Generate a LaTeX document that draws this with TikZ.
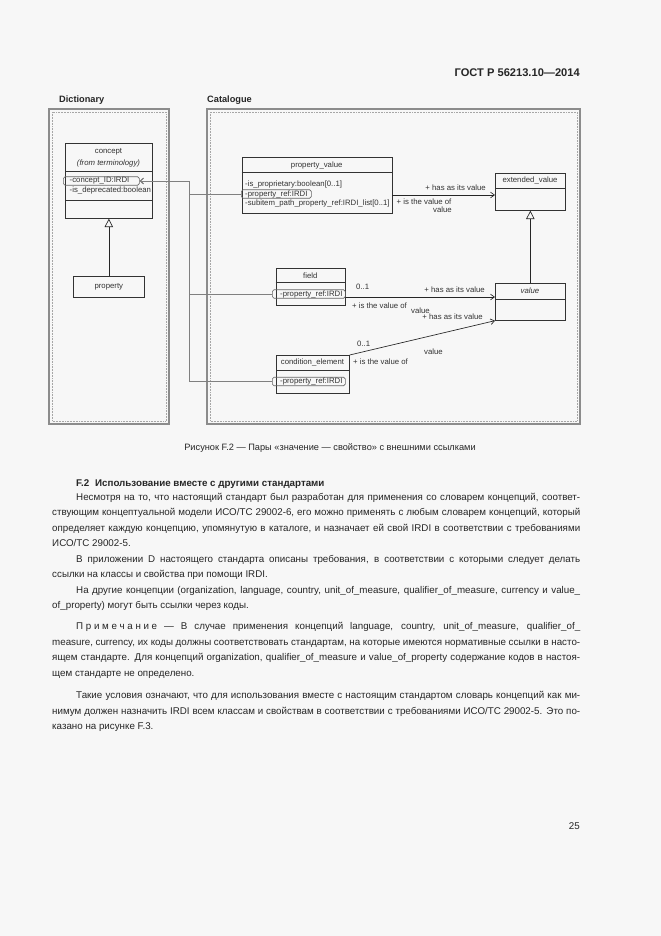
\documentclass[tikz,border=0pt]{standalone}
\usepackage{fontspec}
\setmainfont{Liberation Sans}
\usetikzlibrary{arrows.meta}
\newlength\pxu
\setlength\pxu{0.9pt}
\definecolor{pagebg}{HTML}{F7F7F7}
\newcommand\dfont{\fontsize{7}{8}\selectfont}
\newcommand\bfont{\fontsize{8.8}{11}\selectfont}
\newcommand\jl[2]{\hbox to #1\pxu{#2}}

\begin{document}
\begin{tikzpicture}[x=0.9pt, y=-0.9pt,
    frame/.style={draw=black!45, line width=1.8pt},
    inframe/.style={draw=black!35, densely dotted, line width=0.4pt},
    cls/.style={draw=black!80, line width=0.6pt, inner sep=0pt, anchor=north west},
    divline/.style={draw=black!80, line width=0.6pt},
    refbox/.style={draw=black!60, line width=0.5pt, rounded corners=1.5pt, inner sep=0pt, anchor=west, minimum height=8.5\pxu},
    dtxt/.style={font=\dfont, text=black!80, inner sep=0pt},
    attr/.style={dtxt, anchor=west},
    assoc/.style={draw=black!85, line width=0.6pt, -{Straight Barb[length=3.5pt, width=5pt]}},
    gen/.style={draw=black!85, line width=0.6pt, -{Triangle[open, length=7.5pt, width=7.5pt, fill=pagebg]}},
    refline/.style={draw=black!50, line width=0.7pt, -{Straight Barb[length=3pt, width=5pt]}},
    pkglbl/.style={font=\fontsize{8.3}{10}\selectfont\bfseries, text=black!85, inner sep=0pt, anchor=base west},
    body/.style={font=\bfont, text=black!85, inner sep=0pt, anchor=base west}]

  \fill[pagebg] (0,0) rectangle (661,936);
  \useasboundingbox (0,0) rectangle (661,936);

  % header
  \node[font=\fontsize{10}{12}\selectfont\bfseries, text=black!85, inner sep=0pt, anchor=base east] (hdr) at (580,76) {ГОСТ Р 56213.10—2014};

  % packages
  \node[pkglbl] (dictlbl) at (59,102) {Dictionary};
  \node[pkglbl] (catlbl) at (207,102) {Catalogue};
  \draw[frame] (49,109) rectangle (169,424);
  \draw[inframe] (52,112) rectangle (166,421);
  \draw[frame] (207,109) rectangle (580,424);
  \draw[inframe] (210,112) rectangle (577,421);

  % Dictionary classes
  \node[cls, minimum width=87\pxu, minimum height=75\pxu] (concept) at (65,143) {};
  \draw[divline] (65,171) -- (152,171);
  \draw[divline] (65,200) -- (152,200);
  \node[dtxt] (cname) at (108.5,152) {concept};
  \node[dtxt, font=\dfont\itshape] (cfrom) at (108.5,163) {(from terminology)};
  \node[refbox, minimum width=76\pxu] (cidbox) at (63,181) {};
  \node[attr] (cid) at (69.5,181) {-concept\_ID:IRDI};
  \node[attr] (cdep) at (69.5,190) {-is\_deprecated:boolean};

  \node[cls, minimum width=71\pxu, minimum height=21.6\pxu] (prop) at (73,275.7) {};
  \node[dtxt] (propname) at (prop.center) {property};
  \draw[gen] (prop.north) -- (concept.south);

  % Catalogue classes
  \node[cls, minimum width=150\pxu, minimum height=56\pxu] (pv) at (241.7,157.3) {};
  \draw[divline] (241.7,172.7) -- (391.7,172.7);
  \node[dtxt] (pvname) at (316.7,165) {property\_value};
  \node[attr] (pvprop) at (245,184) {-is\_proprietary:boolean[0..1]};
  \node[refbox, minimum width=70\pxu] (pvrefbox) at (241,194) {};
  \node[attr] (pvref) at (245,194) {-property\_ref:IRDI};
  \node[attr] (pvsub) at (245,203) {-subitem\_path\_property\_ref:IRDI\_list[0..1]};

  \node[cls, minimum width=70\pxu, minimum height=37.3\pxu] (ext) at (495,172.7) {};
  \draw[divline] (495,188.3) -- (565,188.3);
  \node[dtxt] (extname) at (530,180.5) {extended\_value};

  \node[cls, minimum width=70\pxu, minimum height=37\pxu] (val) at (495,283) {};
  \draw[divline] (495,299) -- (565,299);
  \node[dtxt, font=\dfont\itshape] (valname) at (530,291) {value};
  \draw[gen] (val.north) -- (ext.south);

  \node[cls, minimum width=69.3\pxu, minimum height=36.7\pxu] (fld) at (275.7,268.3) {};
  \draw[divline] (275.7,282.7) -- (345,282.7);
  \node[dtxt] (fldname) at (310.3,275.5) {field};
  \node[refbox, minimum width=73\pxu] (fldrefbox) at (272,294) {};
  \node[attr] (fldref) at (280,294) {-property\_ref:IRDI};

  \node[cls, minimum width=73\pxu, minimum height=38.3\pxu] (cond) at (276,355) {};
  \draw[divline] (276,370) -- (349,370);
  \node[dtxt] (condname) at (312.5,362.5) {condition\_element};
  \node[refbox, minimum width=73\pxu] (condrefbox) at (272,381.5) {};
  \node[attr] (condref) at (280,381.5) {-property\_ref:IRDI};

  % references to concept_ID
  \coordinate (bus) at (189,0);
  \draw[refline] (pvrefbox.west) -| (bus |- cidbox.east) -- (cidbox.east);
  \draw[refline] (fldrefbox.west) -| (bus |- cidbox.east) -- (cidbox.east);
  \draw[refline] (condrefbox.west) -| (bus |- cidbox.east) -- (cidbox.east);

  % associations
  \coordinate (pe) at (0,195);
  \draw[assoc] (pv.east |- pe) -- (ext.west |- pe);
  \node[dtxt, anchor=east] (pehas) at (486,188) {+ has as its value};
  \node[dtxt, anchor=west] (peis) at (396.5,202) {+ is the value of};
  \node[dtxt, anchor=east] (perole) at (452,210) {value};

  \coordinate (fv) at (0,297);
  \draw[assoc] (fld.east |- fv) -- (val.west |- fv);
  \node[dtxt, anchor=west] (fvmult) at (356,286.5) {0..1};
  \node[dtxt, anchor=east] (fvhas) at (485,290) {+ has as its value};
  \node[dtxt, anchor=west] (fvis) at (352,306) {+ is the value of};
  \node[dtxt, anchor=west] (fvrole) at (411,311) {value};

  \draw[assoc] (cond.north east) -- (val.south west);
  \node[dtxt, anchor=east] (cvhas) at (483,317) {+ has as its value};
  \node[dtxt, anchor=west] (cvmult) at (357,343.5) {0..1};
  \node[dtxt, anchor=west] (cvrole) at (424,351.5) {value};
  \node[dtxt, anchor=west] (cvis) at (353,362) {+ is the value of};

  % caption
  \node[body, font=\fontsize{8.3}{10}\selectfont, anchor=base] (caption) at (330,450) {Рисунок F.2 — Пары «значение — свойство» с внешними ссылками};

  % text
  \node[body, font=\bfont\bfseries] (sect) at (76,486) {F.2\hspace{0.6em}Использование вместе с другими стандартами};
  \node[body] (p1a) at (76,500) {\jl{504}{Несмотря на то, что настоящий стандарт был разработан для применения со словарем концепций, соответ-}};
  \node[body] (p1b) at (52,515.5) {\jl{528}{ствующим концептуальной модели ИСО/ТС 29002-6, его можно применять с любым словарем концепций, который}};
  \node[body] (p1c) at (52,531) {\jl{528}{определяет каждую концепцию, упомянутую в каталоге, и назначает ей свой IRDI в соответствии с требованиями}};
  \node[body] (p1d) at (52,546.5) {ИСО/ТС 29002-5.};
  \node[body] (p2a) at (76,562) {\jl{504}{В приложении D настоящего стандарта описаны требования, в соответствии с которыми следует делать}};
  \node[body] (p2b) at (52,577.5) {ссылки на классы и свойства при помощи IRDI.};
  \node[body] (p3a) at (76,593) {\jl{504}{На другие концепции (organization, language, country, unit\_of\_measure, qualifier\_of\_measure, currency и value\_}};
  \node[body] (p3b) at (52,608.5) {of\_property) могут быть ссылки через коды.};
  \node[body] (n1) at (76,629.5) {\jl{504}{П\kern2.4ptр\kern2.4ptи\kern2.4ptм\kern2.4ptе\kern2.4ptч\kern2.4ptа\kern2.4ptн\kern2.4ptи\kern2.4ptе — В случае применения концепций language, country, unit\_of\_measure, qualifier\_of\_}};
  \node[body] (n2) at (52,645) {\jl{528}{measure, currency, их коды должны соответствовать стандартам, на которые имеются нормативные ссылки в насто-}};
  \node[body] (n3) at (52,660.5) {\jl{528}{ящем стандарте. Для концепций organization, qualifier\_of\_measure и value\_of\_property содержание кодов в настоя-}};
  \node[body] (n4) at (52,676) {щем стандарте не определено.};
  \node[body] (p4a) at (76,698.5) {\jl{504}{Такие условия означают, что для использования вместе с настоящим стандартом словарь концепций как ми-}};
  \node[body] (p4b) at (52,714) {\jl{528}{нимум должен назначить IRDI всем классам и свойствам в соответствии с требованиями ИСО/ТС 29002-5. Это по-}};
  \node[body] (p4c) at (52,729.5) {казано на рисунке F.3.};

  % page number
  \node[body, anchor=base east] (pgnum) at (580,829.5) {25};
\end{tikzpicture}
\end{document}
